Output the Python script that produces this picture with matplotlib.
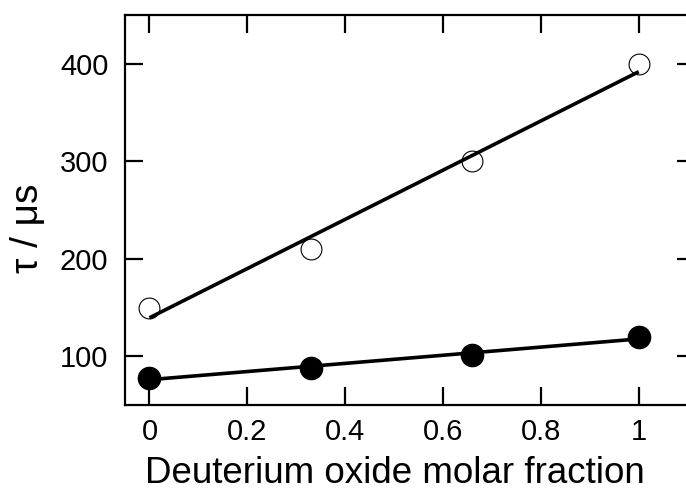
import numpy as np
import matplotlib
matplotlib.use("Agg")
import matplotlib.pyplot as plt

##############################################
# Data
##############################################
x_frac = [0.0, 0.33, 0.66, 1.0]
tau_open = [150, 210, 300, 400]
tau_filled = [78, 88, 101, 120]

x_ticks = [0, 0.2, 0.4, 0.6, 0.8, 1]
x_ticklabels = ["0", "0.2", "0.4", "0.6", "0.8", "1"]
y_ticks = [100, 200, 300, 400]

plt.rcParams["font.family"] = ["Liberation Sans", "DejaVu Sans"]

##############################################
# Plot
##############################################
fig = plt.figure(figsize=(6.86, 4.94), dpi=100)
# axes runs past the right edge of the figure, as in the reference
ax = fig.add_axes([125 / 686, 89 / 494, 570 / 686, 390 / 494])

xs = np.array([0.0, 1.0])
for ys in (tau_open, tau_filled):
    slope, icpt = np.polyfit(x_frac, ys, 1)
    ax.plot(xs, icpt + slope * xs, color="black", lw=2.6, zorder=3,
            solid_capstyle="butt")

ax.plot(x_frac, tau_open, "o", ms=15, mfc="none", mec="black",
        mew=0.8, zorder=2)
ax.plot(x_frac, tau_filled, "o", ms=16, mfc="black", mec="black",
        zorder=4)

ax.set_xlim(-0.05, 1.115)
ax.set_ylim(50, 450)
ax.set_xticks(x_ticks)
ax.set_xticklabels(x_ticklabels)
ax.set_yticks(y_ticks)

for sp in ax.spines.values():
    sp.set_linewidth(1.6)
# right spine sits off the picture in the reference
ax.spines["right"].set_visible(False)

ax.tick_params(axis="both", direction="in", length=13, width=1.6,
               labelsize=21, top=True, right=True)
ax.tick_params(axis="x", pad=9)
ax.tick_params(axis="y", pad=12)

ax.set_xlabel("Deuterium oxide molar fraction", fontsize=26.5)
ax.set_ylabel("τ / μs", fontsize=28)
ax.xaxis.set_label_coords(0.473, -0.131)
ax.yaxis.set_label_coords(-0.138, 0.454)

fig.savefig("out.png", dpi=100)
